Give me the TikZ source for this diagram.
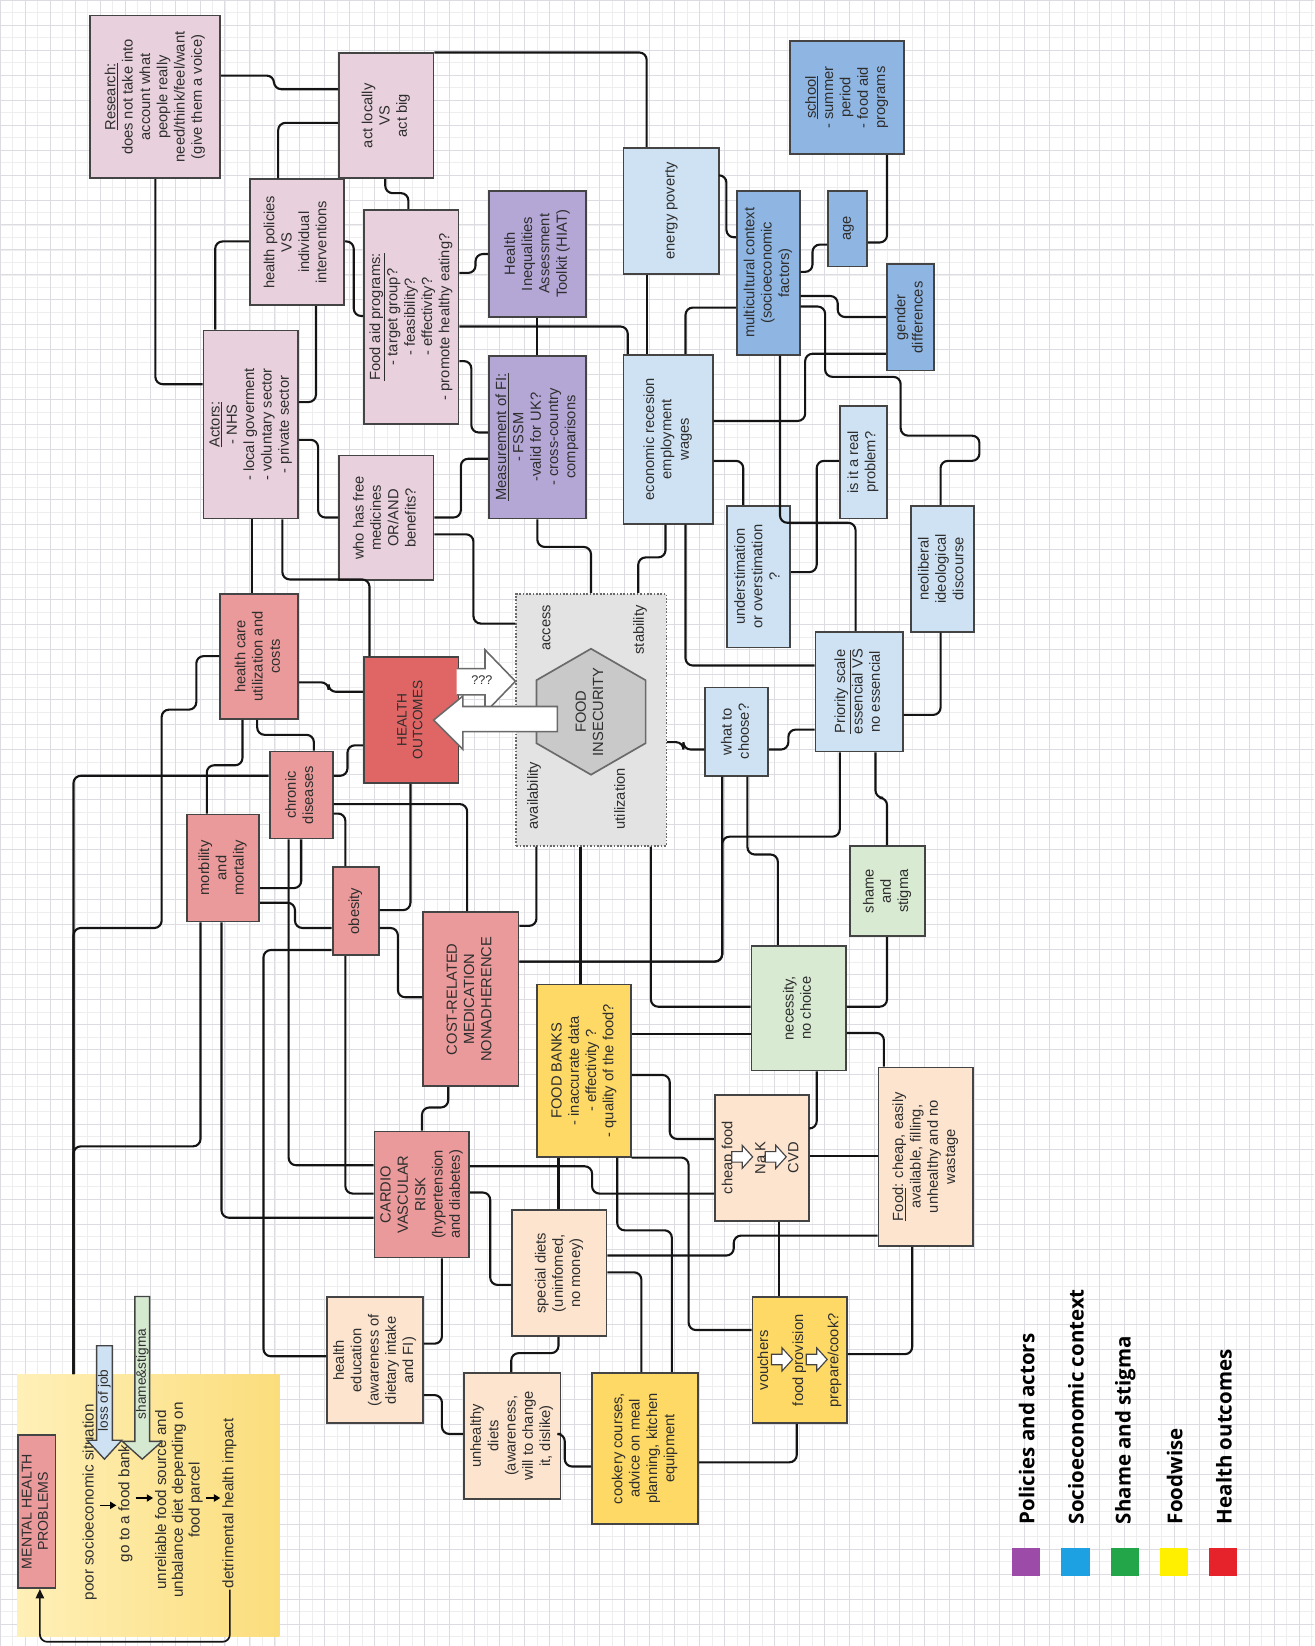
\documentclass[tikz,border=0pt]{standalone}
\usepackage{fontspec}
\setmainfont{Liberation Sans}
\newfontfamily\legendfont{Open Sans}
\usetikzlibrary{arrows.meta}
\definecolor{PolPink}{HTML}{E8D1DC}
\definecolor{PolPurple}{HTML}{B4A7D6}
\definecolor{SocBlue}{HTML}{CFE2F3}
\definecolor{SocBlueDk}{HTML}{8FB5E2}
\definecolor{HoRed}{HTML}{EA9A9A}
\definecolor{HoRedDk}{HTML}{E06666}
\definecolor{FwYellow}{HTML}{FFD966}
\definecolor{FwPeach}{HTML}{FCE4CF}
\definecolor{ShGreen}{HTML}{D9EAD3}
\definecolor{FiGrey}{HTML}{E3E3E3}
\definecolor{FiBorder}{HTML}{6A6A6A}
\definecolor{HexGrey}{HTML}{C9C9C9}
\definecolor{BoxLine}{HTML}{444444}
\definecolor{TextGrey}{HTML}{2E2E2E}
\definecolor{LinkBlack}{HTML}{141414}
\definecolor{GridLine}{HTML}{EEEEEE}
\definecolor{GridMajor}{HTML}{DCDCE2}
\definecolor{MhLight}{HTML}{FFF0B8}
\definecolor{MhDark}{HTML}{FBDD7C}
\definecolor{JobBlue}{HTML}{CFE2F3}
\definecolor{StigGreen}{HTML}{D5E8D0}
\definecolor{LgPurple}{HTML}{9C4BA8}
\definecolor{LgBlue}{HTML}{1DA1E2}
\definecolor{LgGreen}{HTML}{23A64A}
\definecolor{LgYellow}{HTML}{FFF000}
\definecolor{LgRed}{HTML}{E6222A}
\newcommand\sidetext[1]{\rotatebox{90}{\begin{tabular}{@{}c@{}}#1\end{tabular}}}
\tikzset{
  box/.style={draw=BoxLine, line width=1.7pt, anchor=north west, inner sep=1pt, text=TextGrey, font=\fontsize{14}{16.5}\selectfont},
  policy/.style={box, fill=PolPink},
  toolbox/.style={box, fill=PolPurple},
  socio/.style={box, fill=SocBlue},
  sociodk/.style={box, fill=SocBlueDk},
  outcome/.style={box, fill=HoRed},
  foodwise/.style={box, fill=FwYellow},
  foodpeach/.style={box, fill=FwPeach},
  shamebox/.style={box, fill=ShGreen},
  fiarea/.style={draw=FiBorder, fill=FiGrey, line width=1.6pt, dash pattern=on 1.6pt off 1.6pt, anchor=north west, inner sep=0pt},
  hexa/.style={draw=FiBorder, fill=HexGrey, line width=1.6pt},
  filabel/.style={inner sep=0pt, text=TextGrey, font=\fontsize{14}{16.5}\selectfont},
  mentalarea/.style={anchor=north west, inner sep=0pt, left color=MhLight, right color=MhDark},
  mhtext/.style={inner sep=1pt, text=TextGrey, font=\fontsize{14.5}{16}\selectfont},
  link/.style={draw=LinkBlack, line width=2pt, rounded corners=7pt},
  smallarr/.style={draw=black, line width=1pt, -{Triangle[length=6pt,width=7pt]}},
  bigarrow/.style={draw=FiBorder, fill=white, line width=1.5pt},
  fwdarrow/.pic={\draw[draw=BoxLine, fill=white, line width=1.1pt] (-10,-5) -- (0,-5) -- (0,-11) -- (10,0) -- (0,11) -- (0,5) -- (-10,5) -- cycle;},
  legendtxt/.style={anchor=south, inner sep=0pt, font=\legendfont\bfseries\fontsize{19.5}{22}\selectfont},
  gridline/.style={draw=GridLine, line width=0.6pt},
  gridmajor/.style={draw=GridMajor, line width=0.7pt}
}
\begin{document}
\begin{tikzpicture}[x=1pt,y=-1pt]
\useasboundingbox (0,0) rectangle (1252,1568);
\fill[white] (0,0) rectangle (1252,1568);
\draw[gridline] (0,1568) grid[step=11.9pt] (1252,0);
\draw[gridmajor] (0,1568) grid[step=23.8pt] (1252,0);

\node[policy, minimum width=124, minimum height=155] (research) at (85,14) {\sidetext{\underline{Research:}\\does not take into\\account what\\people really\\need/think/feel/want\\(give them a voice)}};
\node[policy, minimum width=90, minimum height=119] (actlocal) at (322,50) {\sidetext{act locally\\VS\\act big}};
\node[policy, minimum width=90, minimum height=120] (healthpol) at (237,170) {\sidetext{health policies\\VS\\individual\\interventions}};
\node[policy, minimum width=90, minimum height=204] (foodaid) at (346,199) {\sidetext{\underline{Food aid programs:}\\- target group?\\- feasibility?\\- effectivity?\\- promote healthy eating?}};
\node[policy, minimum width=90, minimum height=179] (actors) at (193,314) {\sidetext{\underline{Actors:}\\- NHS\\- local goverment\\- voluntary sector\\- private sector}};
\node[policy, minimum width=90, minimum height=119] (whohas) at (322,433) {\sidetext{who has free\\medicines\\OR/AND\\benefits?}};
\node[toolbox, minimum width=92, minimum height=120] (hiat) at (465,181) {\sidetext{Health\\Inequalities\\Assessment\\Toolkit (HIAT)}};
\node[toolbox, minimum width=92, minimum height=155] (measure) at (465,338) {\sidetext{\underline{Measurement of FI:}\\- FSSM\\-valid for UK?\\- cross-country\\comparisons}};

\node[socio, minimum width=91, minimum height=120] (energy) at (593,140) {\sidetext{energy poverty}};
\node[socio, minimum width=85, minimum height=161] (econ) at (593,337) {\sidetext{economic recesion\\employment\\wages}};
\node[sociodk, minimum width=108, minimum height=108] (school) at (752,38) {\sidetext{\underline{school}\\- summer\\period\\- food aid\\programs}};
\node[sociodk, minimum width=60, minimum height=156] (multicult) at (701,181) {\sidetext{multicultural context\\(socioeconomic\\factors)}};
\node[sociodk, minimum width=37, minimum height=72] (age) at (788,181) {\sidetext{age}};
\node[sociodk, minimum width=45, minimum height=101] (gender) at (844,251) {\sidetext{gender\\differences}};
\node[socio, minimum width=45, minimum height=107] (isreal) at (799,386) {\sidetext{is it a real\\problem?}};
\node[socio, minimum width=60, minimum height=135] (underest) at (692,481) {\sidetext{understimation\\or overstimation\\?}};
\node[socio, minimum width=60, minimum height=120] (neolib) at (867,481) {\sidetext{neoliberal\\ideological\\discourse}};
\node[socio, minimum width=83, minimum height=114] (priority) at (776,601) {\sidetext{\underline{Priority scale}\\essencial VS\\no essencial}};
\node[socio, minimum width=60, minimum height=84] (whatto) at (671,654) {\sidetext{what to\\choose?}};

\node[outcome, minimum width=74, minimum height=119] (hcare) at (209,565) {\sidetext{health care\\utilization and\\costs}};
\node[outcome, fill=HoRedDk, minimum width=90, minimum height=120, font=\fontsize{13}{15}\selectfont] (healthout) at (346,625) {\sidetext{HEALTH\\OUTCOMES}};
\node[outcome, minimum width=60, minimum height=83] (chronic) at (256,715) {\sidetext{chronic\\diseases}};
\node[outcome, minimum width=69, minimum height=102] (morbid) at (177,775) {\sidetext{morbility\\and\\mortality}};
\node[outcome, minimum width=44, minimum height=84] (obesity) at (316,825) {\sidetext{obesity}};
\node[outcome, minimum width=91, minimum height=166] (costrel) at (402,868) {\sidetext{COST-RELATED\\MEDICATION\\NONADHERENCE}};
\node[outcome, minimum width=90, minimum height=120] (cardio) at (356,1077) {\sidetext{CARDIO\\VASCULAR\\RISK\\(hypertension\\and diabetes)}};

\node[foodwise, minimum width=89, minimum height=164] (foodbanks) at (511,937) {\sidetext{FOOD BANKS\\- inaccurate data\\- effectivity ?\\- quality of the food?}};
\node[foodwise, minimum width=101, minimum height=144] (cookery) at (563,1307) {\sidetext{cookery courses,\\advice on meal\\planning, kitchen\\equipment}};
\node[foodwise, minimum width=90, minimum height=120] (vouchers) at (716,1235) {\sidetext{vouchers\\[17pt]food provision\\[17pt]prepare/cook?}};
\node[foodpeach, minimum width=90, minimum height=120] (cheapfood) at (680,1042) {\sidetext{cheap food\\[15pt]Na K\\[15pt]CVD}};
\node[foodpeach, minimum width=90, minimum height=170] (foodcheap) at (836,1016) {\sidetext{\underline{Food}: cheap, easily\\available, filling,\\unhealthy and no\\wastage}};
\node[foodpeach, minimum width=90, minimum height=120] (specdiet) at (487,1152) {\sidetext{special diets\\(uninfomed,\\no money)}};
\node[foodpeach, minimum width=91, minimum height=120] (healthedu) at (311,1235) {\sidetext{health\\education\\(awareness of\\dietary intake\\and FI)}};
\node[foodpeach, minimum width=92, minimum height=120] (unhealthy) at (441,1307) {\sidetext{unhealthy\\diets\\(awareness,\\will to change\\it, dislike)}};

\node[shamebox, minimum width=71, minimum height=86] (shame) at (809,805) {\sidetext{shame\\and\\stigma}};
\node[shamebox, minimum width=90, minimum height=119] (necessity) at (715,900) {\sidetext{necessity,\\no choice}};

\node[fiarea, minimum width=143, minimum height=240] (fi) at (491,565) {};
\draw[hexa] (563,618) -- (615,648) -- (615,708) -- (563,738) -- (511,708) -- (511,648) -- cycle;
\node[filabel] (fitext) at (563,678) {\sidetext{FOOD\\INSECURITY}};
\node[filabel] (access) at (521,598) {\sidetext{access}};
\node[filabel] (stability) at (610,600) {\sidetext{stability}};
\node[filabel] (availability) at (509,758) {\sidetext{availability}};
\node[filabel] (utilization) at (592,761) {\sidetext{utilization}};

\node[mentalarea, minimum width=250, minimum height=250] (mentalbg) at (16,1309) {};
\node[outcome, minimum width=36, minimum height=146, inner sep=0pt, font=\fontsize{13.5}{15.5}\selectfont] (mhp) at (16,1366) {\sidetext{MENTAL HEALTH\\PROBLEMS}};
\node[mhtext] (poor) at (86,1431) {\sidetext{poor socioeconomic situation}};
\node[mhtext] (go) at (120,1432) {\sidetext{go to a food bank}};
\node[mhtext] (unrel) at (171,1429) {\sidetext{unreliable food source and\\unbalance diet depending on\\food parcel}};
\node[mhtext] (detri) at (219,1432) {\sidetext{detrimental health impact}};

\draw[link] (research.east |- 0,72) -| (261,85) -- (actlocal.west |- 0,85);
\draw[link] (actlocal.north east) -| (energy.north -| 616,0);
\draw[link] (energy.south -| 616,0) -- (econ.north -| 616,0);
\draw[link] (actlocal.west |- 0,117) -| (healthpol.north -| 265,0);
\draw[link] (actlocal.south -| 367,0) -- (367,184) -- (389,184) -- (foodaid.north -| 389,0);
\draw[link] (healthpol.west |- 0,230) -| (actors.north -| 205,0);
\draw[link] (healthpol.south -| 301,0) |- (actors.east |- 0,383);
\draw[link] (healthpol.east |- 0,230) -| (337,301) -- (foodaid.west |- 0,301);
\draw[link] (research.south -| 148,0) |- (actors.west |- 0,366);
\draw[link] (foodaid.east |- 0,260) -| (453,242) -- (hiat.west |- 0,242);
\draw[link] (hiat.south) -- (measure.north);
\draw[link] (foodaid.east |- 0,311) -| (econ.north -| 598,0);
\draw[link] (foodaid.east |- 0,344) -| (449,412) -- (measure.west |- 0,412);
\draw[link] (actors.east |- 0,419) -| (303,493) -- (whohas.west |- 0,493);
\draw[link] (whohas.east |- 0,493) -| (439,437) -- (measure.west |- 0,437);
\draw[link] (whohas.east |- 0,509) -| (451,594) -- (fi.west |- 0,594);
\draw[link] (measure.south) |- (563,521) -- (fi.north -| 563,0);
\draw[link] (econ.south -| 634,0) |- (608,531) -- (fi.north -| 608,0);
\draw[link] (econ.south -| 653,0) |- (priority.west |- 0,634);
\draw[link] (econ.east |- 0,401) -| (767,337) -- (gender.west |- 0,337);
\draw[link] (econ.east |- 0,439) -| (underest.north -| 708,0);
\draw[link] (energy.east |- 0,167) -| (692,226) -- (multicult.west |- 0,226);
\draw[link] (multicult.west |- 0,293) -| (econ.north -| 653,0);
\draw[link] (multicult.east |- 0,259) -| (774,233) -- (age.west |- 0,233);
\draw[link] (age.east |- 0,231) -| (school.south -| 845,0);
\draw[link] (multicult.east |- 0,282) -| (798,302) -- (gender.west |- 0,302);
\draw[link] (multicult.east |- 0,292) -| (786,359) -| (858,415) -| (933,439) -| (neolib.north -| 896,0);
\draw[link] (multicult.south -| 743,0) |- (815,498) -- (priority.north -| 815,0);
\draw[link] (isreal.west |- 0,439) -| (778,545) -- (underest.east |- 0,545);
\draw[link] (neolib.south -| 896,0) |- (priority.east |- 0,681);
\draw[link] (fi.east |- 0,707) -| (651,714) -- (whatto.west |- 0,714);
\draw[link] (whatto.east |- 0,714) -| (751,695) -- (priority.west |- 0,695);
\draw[link] (costrel.east |- 0,916) -| (whatto.south -| 688,0);
\draw[link] (whatto.south -| 712,0) |- (741,814) -- (necessity.north -| 741,0);
\draw[link] (priority.south -| 800,0) |- (688,797) -- (688,916) -- (costrel.east |- 0,916);
\draw[link] (priority.south -| 834,0) |- (845,760) -- (shame.north -| 845,0);
\draw[link] (shame.south -| 845,0) |- (necessity.east |- 0,959);
\draw[link] (fi.south -| 620,0) |- (necessity.west |- 0,959);
\draw[link] (foodbanks.east |- 0,985) -- (necessity.west |- 0,985);
\draw[link] (necessity.east |- 0,984) -| (foodcheap.north -| 842,0);
\draw[link] (necessity.south -| 778,0) |- (cheapfood.east |- 0,1075);
\draw[link] (foodbanks.east |- 0,1024) -| (638,1085) -- (cheapfood.west |- 0,1085);
\draw[link] (foodbanks.south east) -| (656,1267) -- (vouchers.west |- 0,1267);
\draw[link] (foodbanks.south -| 532,0) -- (specdiet.north -| 532,0);
\draw[link] (foodbanks.south -| 588,0) |- (640,1172) -- (cookery.north -| 640,0);
\draw[link] (cardio.east |- 0,1111) -| (564,1137) -- (cheapfood.west |- 0,1137);
\draw[link] (cardio.east |- 0,1136) -| (467,1224) -- (specdiet.west |- 0,1224);
\draw[link] (specdiet.east |- 0,1196) -| (699,1177) -- (foodcheap.west |- 0,1177);
\draw[link] (specdiet.east |- 0,1212) -| (cookery.north -| 611,0);
\draw[link] (cheapfood.east |- 0,1101) -- (foodcheap.west |- 0,1101);
\draw[link] (cheapfood.south -| 742,0) -- (vouchers.north -| 742,0);
\draw[link] (foodcheap.south -| 869,0) |- (vouchers.east |- 0,1290);
\draw[link] (vouchers.south -| 759,0) |- (cookery.east |- 0,1393);
\draw[link] (specdiet.south -| 532,0) |- (487,1289) -- (unhealthy.north -| 487,0);
\draw[link] (unhealthy.east |- 0,1366) -| (538,1397) -- (cookery.west |- 0,1397);
\draw[link] (healthedu.east |- 0,1329) -| (421,1366) -- (unhealthy.west |- 0,1366);
\draw[link] (cardio.south -| 421,0) |- (healthedu.east |- 0,1280);
\draw[link] (costrel.south -| 427,0) |- (402,1055) -- (cardio.north -| 402,0);
\draw[link] (chronic.south -| 275,0) |- (cardio.west |- 0,1110);
\draw[link] (obesity.south -| 329,0) |- (cardio.west |- 0,1137);
\draw[link] (morbid.south -| 211,0) |- (cardio.west |- 0,1160);
\draw[link] (obesity.west |- 0,905) -| (251,1292) -- (healthedu.west |- 0,1292);
\draw[link] (morbid.east |- 0,860) -| (281,884) -- (obesity.west |- 0,884);
\draw[link] (obesity.east |- 0,884) -| (379,950) -- (costrel.west |- 0,950);
\draw[link] (healthout.south -| 391,0) |- (obesity.east |- 0,867);
\draw[link] (chronic.east |- 0,766) -| (costrel.north -| 445,0);
\draw[link] (chronic.east |- 0,775) -| (obesity.north -| 329,0);
\draw[link] (chronic.south -| 287,0) |- (morbid.east |- 0,846);
\draw[link] (chronic.east |- 0,739) -| (331,710) -- (healthout.west |- 0,710);
\draw[link] (hcare.south -| 245,0) |- (299,700) -- (chronic.north -| 299,0);
\draw[link] (hcare.south -| 231,0) |- (197,729) -- (morbid.north -| 197,0);
\draw[link] (hcare.east |- 0,650) -| (313,659) -- (healthout.west |- 0,659);
\draw[link] (hcare.west |- 0,625) -| (187,676) -| (154,884) -| (mentalbg.north -| 70,0);
\draw[link] (chronic.west |- 0,739) -| (mentalbg.north -| 70,0);
\draw[link] (morbid.south -| 191,0) |- (70,1092) -- (mentalbg.north -| 70,0);
\draw[link] (actors.south -| 240,0) -- (hcare.north -| 240,0);
\draw[link] (actors.south -| 269,0) |- (352,552) -- (healthout.north -| 352,0);
\draw[link] (fi.south -| 511,0) |- (costrel.east |- 0,882);
\draw[link] (fi.south -| 553,0) -- (foodbanks.north -| 553,0);

\draw[bigarrow] (435,637) -- (462,637) -- (462,619) -- (491,649) -- (462,679) -- (462,662) -- (435,662);
\node[inner sep=0pt, text=TextGrey, font=\fontsize{12}{14}\selectfont] (qmarks) at (459,648) {???};
\draw[bigarrow] (531,673) -- (441,673) -- (441,663) -- (413,686) -- (441,714) -- (441,697) -- (531,697) -- cycle;

\pic at (707,1102) {fwdarrow};
\pic at (739,1102) {fwdarrow};
\pic at (745,1295) {fwdarrow};
\pic at (778,1295) {fwdarrow};

\draw[smallarr] (poor.east |- 0,1434) -- (go.west |- 0,1434);
\draw[smallarr] (go.east |- 0,1427) -- (unrel.west |- 0,1427);
\draw[smallarr] (unrel.east |- 0,1427) -- (detri.west |- 0,1427);
\draw[link, line width=1.6pt, -{Triangle[length=9pt,width=8pt]}] (detri.south) |- (38,1564) -- (mhp.south -| 38,0);

\draw[draw=BoxLine, fill=JobBlue, line width=1.3pt] (92,1282) -- (107,1282) -- (107,1372) -- (116,1372) -- (99.5,1390) -- (83,1372) -- (92,1372) -- cycle;
\node[inner sep=0pt, text=TextGrey, font=\fontsize{13}{15}\selectfont] (lossjob) at (99.5,1334) {\rotatebox{90}{loss of job}};
\draw[draw=BoxLine, fill=StigGreen, line width=1.3pt] (128.5,1235) -- (142.5,1235) -- (142.5,1373) -- (154.5,1373) -- (135.5,1390) -- (116.5,1373) -- (128.5,1373) -- cycle;
\node[inner sep=0pt, text=TextGrey, font=\fontsize{13}{15}\selectfont] (stigma) at (135.5,1309) {\rotatebox{90}{shame\&stigma}};

\fill[LgPurple] (964,1475) rectangle (991,1501);
\fill[LgBlue] (1011,1475) rectangle (1038,1501);
\fill[LgGreen] (1058,1475) rectangle (1085,1501);
\fill[LgYellow] (1105,1475) rectangle (1132,1501);
\fill[LgRed] (1152,1475) rectangle (1178,1501);
\node[legendtxt] (lgpol) at (978,1452) {\rotatebox{90}{Policies and actors}};
\node[legendtxt] (lgsoc) at (1025,1452) {\rotatebox{90}{Socioeconomic context}};
\node[legendtxt] (lgsham) at (1072,1452) {\rotatebox{90}{Shame and stigma}};
\node[legendtxt] (lgfood) at (1119,1452) {\rotatebox{90}{Foodwise}};
\node[legendtxt] (lghealth) at (1166,1452) {\rotatebox{90}{Health outcomes}};
\end{tikzpicture}
\end{document}
